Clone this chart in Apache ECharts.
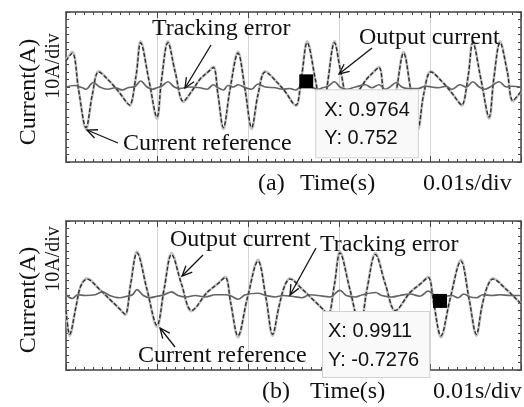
<!DOCTYPE html>
<html>
<head>
<meta charset="utf-8">
<script src="https://cdn.jsdelivr.net/npm/echarts@6/dist/echarts.min.js"></script>
<style>
  html, body { margin: 0; padding: 0; background: #fff; }
  #main { width: 524px; height: 407px; }
</style>
</head>
<body>
<div id="main"></div>
<script>
// ---- Panel (a) ----
const timeA = [0.9500,0.9507,0.9514,0.9522,0.9529,0.9536,0.9548,0.9559,0.9567,0.9570,
  0.9577,0.9582,0.9591,0.9600,0.9605,0.9612,0.9620,0.9629,0.9638,0.9647,
  0.9656,0.9662,0.9667,0.9673,0.9680,0.9689,0.9697,0.9704,0.9711,0.9719,
  0.9731,0.9742,0.9749,0.9753,0.9759,0.9765,0.9774,0.9782,0.9788,0.9795,
  0.9802,0.9811,0.9821,0.9830,0.9838,0.9844,0.9849,0.9855,0.9863,0.9871,
  0.9879,0.9887,0.9893,0.9901,0.9913,0.9924,0.9932,0.9935,0.9942,0.9947,
  0.9956,0.9965,0.9970,0.9977,0.9985,0.9991,1.0000];
const refA = [3.5,4.5,-0.5,-5.4,-1.0,2.0,0.75,-0.8,-2.1,-2.4,
  1.5,5.9,1.0,-4.0,1.0,5.9,2.0,-1.9,-0.6,1.0,
  2.0,2.6,-1.0,-5.4,-0.5,4.5,-0.5,-5.4,-1.0,2.0,
  0.75,-0.8,-2.1,-2.4,1.5,5.9,1.0,-4.0,1.0,5.9,
  2.0,-1.9,-0.6,1.0,2.0,2.6,-1.0,-5.4,-0.5,4.5,
  -0.5,-5.4,-1.0,2.0,0.75,-0.8,-2.1,-2.4,1.5,5.9,
  1.0,-4.0,1.0,5.9,2.0,-1.8,-0.6];
const outA = [3.6,4.7,-0.5,-5.6,-1.0,2.1,0.75,-0.8,-2.1,-2.5,
  1.5,6.1,1.0,-4.2,1.0,6.1,2.0,-2.0,-0.6,1.0,
  2.0,2.7,-1.0,-5.6,-0.5,4.7,-0.5,-5.6,-1.0,2.1,
  0.75,-0.8,-2.1,-2.5,1.5,6.1,1.0,-4.2,1.0,6.1,
  2.0,-2.0,-0.6,1.0,2.0,2.7,-1.0,-5.6,-0.5,4.7,
  -0.5,-5.6,-1.0,2.1,0.75,-0.8,-2.1,-2.5,1.5,6.1,
  1.0,-4.2,1.0,6.1,2.0,-1.9,-0.6];
const errTimeA = [0.9500,0.9509,0.9518,0.9522,0.9530,0.9537,0.9546,0.9554,0.9562,0.9568,
  0.9576,0.9582,0.9589,0.9595,0.9600,0.9605,0.9612,0.9619,0.9625,0.9636,
  0.9647,0.9655,0.9662,0.9667,0.9673,0.9678,0.9684,0.9689,0.9697,0.9704,
  0.9711,0.9719,0.9730,0.9738,0.9746,0.9752,0.9757,0.9764,0.9770,0.9777,
  0.9782,0.9788,0.9795,0.9801,0.9808,0.9818,0.9829,0.9836,0.9844,0.9851,
  0.9856,0.9863,0.9869,0.9876,0.9887,0.9895,0.9902,0.9909,0.9918,0.9924,
  0.9933,0.9940,0.9947,0.9954,0.9960,0.9966,0.9976,0.9984,0.9990,1.0000];
const errA = [0.0,0.2,-0.1,-0.3,0.6,0.0,-0.3,-0.1,-0.4,-0.1,
  0.1,0.8,0.0,-0.3,-0.1,0.1,0.7,0.0,-0.2,0.0,
  -0.1,-0.3,0.3,-0.1,-0.4,0.2,0.0,0.3,-0.1,-0.3,
  0.4,0.0,-0.1,-0.3,-0.2,-0.4,0.0,0.752,0.0,-0.3,
  -0.1,0.1,0.7,0.0,-0.3,0.0,0.3,-0.1,0.3,-0.3,
  0.0,0.6,0.0,-0.2,-0.2,0.1,0.0,-0.1,0.1,-0.3,
  0.3,0.0,0.7,0.0,-0.3,0.0,0.7,0.0,0.1,0.0];
const tipTimeA = 0.9764;

// ---- Panel (b) ----
const timeB = [0.9500,0.9504,0.9511,0.9516,0.9523,0.9537,0.9548,0.9559,0.9565,0.9571,
  0.9578,0.9589,0.9600,0.9608,0.9616,0.9627,0.9638,0.9655,0.9666,0.9675,
  0.9681,0.9689,0.9699,0.9711,0.9720,0.9727,0.9734,0.9740,0.9746,0.9760,
  0.9771,0.9782,0.9788,0.9795,0.9801,0.9812,0.9823,0.9831,0.9840,0.9851,
  0.9862,0.9878,0.9889,0.9898,0.9904,0.9912,0.9922,0.9934,0.9943,0.9951,
  0.9957,0.9963,0.9969,0.9984,0.9995,1.0000];
const refB = [-2.0,-5.2,-1.5,1.2,2.2,0.8,-0.5,-1.8,-2.5,1.5,
  5.7,0.8,-4.0,1.0,5.5,1.5,-2.0,0.4,1.5,2.4,
  -1.0,-5.4,-0.5,4.6,-0.5,-5.2,-1.5,1.2,2.2,0.8,
  -0.5,-1.8,-2.5,1.5,5.7,0.8,-4.0,1.0,5.5,1.5,
  -2.0,0.4,1.5,2.4,-1.0,-5.4,-0.5,4.6,-0.5,-5.2,
  -1.5,1.2,2.2,0.8,-0.5,-1.1];
const outB = [-2.0,-5.4,-1.5,1.2,2.3,0.8,-0.5,-1.8,-2.6,1.5,
  5.9,0.8,-4.2,1.0,5.7,1.5,-2.1,0.4,1.5,2.5,
  -1.0,-5.6,-0.5,4.8,-0.5,-5.4,-1.5,1.2,2.3,0.8,
  -0.5,-1.8,-2.6,1.5,5.9,0.8,-4.2,1.0,5.7,1.5,
  -2.1,0.4,1.5,2.5,-1.0,-5.6,-0.5,4.8,-0.5,-5.4,
  -1.5,1.2,2.3,0.8,-0.5,-1.1];
const errTimeB = [0.9500,0.9507,0.9513,0.9521,0.9532,0.9540,0.9548,0.9559,0.9567,0.9573,
  0.9578,0.9585,0.9592,0.9600,0.9608,0.9616,0.9623,0.9632,0.9642,0.9653,
  0.9664,0.9675,0.9682,0.9689,0.9697,0.9711,0.9720,0.9730,0.9738,0.9748,
  0.9759,0.9768,0.9777,0.9790,0.9801,0.9808,0.9818,0.9826,0.9840,0.9847,
  0.9858,0.9867,0.9878,0.9889,0.9898,0.9904,0.9911,0.9918,0.9924,0.9931,
  0.9937,0.9944,0.9951,0.9958,0.9968,0.9977,0.9988,1.0000];
const errB = [0.1,-0.4,0.1,0.0,0.1,0.5,0.0,-0.3,-0.1,0.1,
  0.8,0.0,-0.3,-0.1,0.1,0.5,0.0,-0.2,0.0,-0.2,
  0.1,0.1,-0.1,-0.5,0.1,0.3,0.0,-0.2,0.0,-0.1,
  -0.3,0.1,0.0,-0.2,0.7,0.0,-0.2,0.1,0.4,0.0,
  -0.2,0.0,0.2,-0.1,0.6,0.1,-0.7276,-0.1,0.0,-0.3,
  0.2,-0.2,-0.3,0.1,0.0,0.1,0.0,0.0];
const tipTimeB = 0.9911;

// Axis tick settings shared by both panels
const xMin = 0.95, xMax = 1.0, xStep = 0.01;
const yMin = -10, yMax = 10, yStep = 10;

const frameColor = '#444';
const serif = '"Liberation Serif", "Times New Roman", serif';
const sans = '"Liberation Sans", Arial, sans-serif';

const pairs = (t, v) => t.map((x, i) => [x, v[i]]);

function xAxes(gi) {
  const base = {
    gridIndex: gi, type: 'value', min: xMin, max: xMax, interval: xStep,
    axisLine: { show: true, onZero: false, lineStyle: { color: frameColor, width: 1.5 } },
    axisTick: { show: true, inside: true, length: 6, lineStyle: { color: frameColor, width: 1 } },
    minorTick: { show: true, splitNumber: 10, length: 3, lineStyle: { color: frameColor, width: 1 } },
    axisLabel: { show: false },
    minorSplitLine: { show: false }
  };
  return [
    Object.assign({}, base, { position: 'bottom',
      splitLine: { show: true, lineStyle: { color: '#d4d4d4', width: 1 } } }),
    Object.assign({}, base, { position: 'top', splitLine: { show: false } })
  ];
}
function yAxes(gi) {
  const base = {
    gridIndex: gi, type: 'value', min: yMin, max: yMax, interval: yStep,
    axisLine: { show: true, onZero: false, lineStyle: { color: frameColor, width: 1.5 } },
    axisTick: { show: true, inside: true, length: 4, lineStyle: { color: frameColor, width: 1 } },
    minorTick: { show: true, splitNumber: 10, length: 3, lineStyle: { color: frameColor, width: 1 } },
    axisLabel: { show: false },
    splitLine: { show: false },
    minorSplitLine: { show: false }
  };
  return [
    Object.assign({}, base, { position: 'left' }),
    Object.assign({}, base, { position: 'right' })
  ];
}

function traces(gi, t, ref, out, et, err) {
  const xi = gi * 2, yi = gi * 2;
  return [
    { type: 'line', name: 'Output current', xAxisIndex: xi, yAxisIndex: yi,
      data: pairs(t, out), smooth: 0.35, showSymbol: false, z: 2,
      lineStyle: { color: '#c4c4c4', width: 2.6 } },
    { type: 'line', name: 'Current reference', xAxisIndex: xi, yAxisIndex: yi,
      data: pairs(t, ref), smooth: 0.35, showSymbol: false, z: 3,
      lineStyle: { color: '#2e2e2e', width: 1.4, type: [4, 2] } },
    { type: 'line', name: 'Tracking error', xAxisIndex: xi, yAxisIndex: yi,
      data: pairs(et, err), smooth: 0.35, showSymbol: false, z: 4,
      lineStyle: { color: '#646464', width: 1.7 } }
  ];
}

// Data cursor: black square on the tracking-error trace with its readout
function cursor(gi, et, err, tipT, offset, pad, lh) {
  const i = et.indexOf(tipT);
  const pt = [et[i], err[i]];
  return {
    type: 'scatter', xAxisIndex: gi * 2, yAxisIndex: gi * 2, z: 10,
    symbol: 'rect', symbolSize: 14,
    itemStyle: { color: '#000', opacity: 1 },
    data: [pt],
    label: {
      show: true, position: offset, opacity: 1,
      formatter: () => 'X: ' + pt[0] + '\nY: ' + pt[1],
      fontFamily: sans, fontSize: 20, color: '#111', lineHeight: lh,
      backgroundColor: '#f9f9f9', borderColor: '#d2d2d2', borderWidth: 1,
      padding: pad, align: 'left', verticalAlign: 'top'
    },
    labelLayout: { hideOverlap: false }
  };
}

function txt(x, y, s, size, extra) {
  return Object.assign({
    type: 'text', x: x, y: y, z: 100,
    style: { text: s, font: size + 'px ' + serif, fill: '#111',
      textAlign: 'left', textVerticalAlign: 'middle' }
  }, extra || {});
}
function vtxt(x, y, s, size) {
  return {
    type: 'text', x: x, y: y, rotation: Math.PI / 2, z: 100,
    style: { text: s, font: size + 'px ' + serif, fill: '#111',
      textAlign: 'center', textVerticalAlign: 'middle' }
  };
}
function arrow(x1, y1, x2, y2) {
  const a = Math.atan2(y1 - y2, x1 - x2), L = 11, h = 0.42;
  return [
    { type: 'line', z: 100, shape: { x1: x1, y1: y1, x2: x2, y2: y2 },
      style: { stroke: '#111', lineWidth: 1.3 } },
    { type: 'polyline', z: 100,
      shape: { points: [[x2 + L * Math.cos(a + h), y2 + L * Math.sin(a + h)], [x2, y2],
                        [x2 + L * Math.cos(a - h), y2 + L * Math.sin(a - h)]] },
      style: { stroke: '#111', lineWidth: 1.3, fill: null } }
  ];
}

const graphics = [].concat(
  // panel (a)
  vtxt(29, 92, 'Current(A)', 24), vtxt(54, 66, '10A/div', 20),
  txt(152, 29, 'Tracking error', 24), arrow(211, 45, 185, 88),
  txt(359, 38, 'Output current', 24), arrow(372, 48, 339, 74),
  txt(123, 144, 'Current reference', 24), arrow(118, 143, 87, 130),
  txt(258, 184, '(a)', 24), txt(300, 184, 'Time(s)', 24), txt(423, 184, '0.01s/div', 24),
  // panel (b)
  vtxt(29, 300, 'Current(A)', 24), vtxt(54, 259, '10A/div', 20),
  txt(170, 240, 'Output current', 24), arrow(203, 255, 182, 276),
  txt(320, 245, 'Tracking error', 24), arrow(316, 248, 290, 295),
  txt(138, 356, 'Current reference', 24), arrow(175, 347, 160, 328),
  txt(262, 392, '(b)', 24), txt(310, 392, 'Time(s)', 24), txt(433, 392, '0.01s/div', 24)
);

const chart = echarts.init(document.getElementById('main'), null, { renderer: 'canvas' });
chart.setOption({
  animation: false,
  backgroundColor: '#fff',
  grid: [
    { left: 66, top: 12, width: 455, height: 150 },
    { left: 66, top: 221, width: 455, height: 149 }
  ],
  xAxis: xAxes(0).concat(xAxes(1)),
  yAxis: yAxes(0).concat(yAxes(1)),
  series: [].concat(
    traces(0, timeA, refA, outA, errTimeA, errA),
    traces(1, timeB, refB, outB, errTimeB, errB),
    cursor(0, errTimeA, errA, tipTimeA, [17, 16], [6, 8, 5, 8], 28),
    cursor(1, errTimeB, errB, tipTimeB, [-110, 18], [5, 10, 2, 5], 29)
  ),
  graphic: graphics
});
</script>
</body>
</html>
